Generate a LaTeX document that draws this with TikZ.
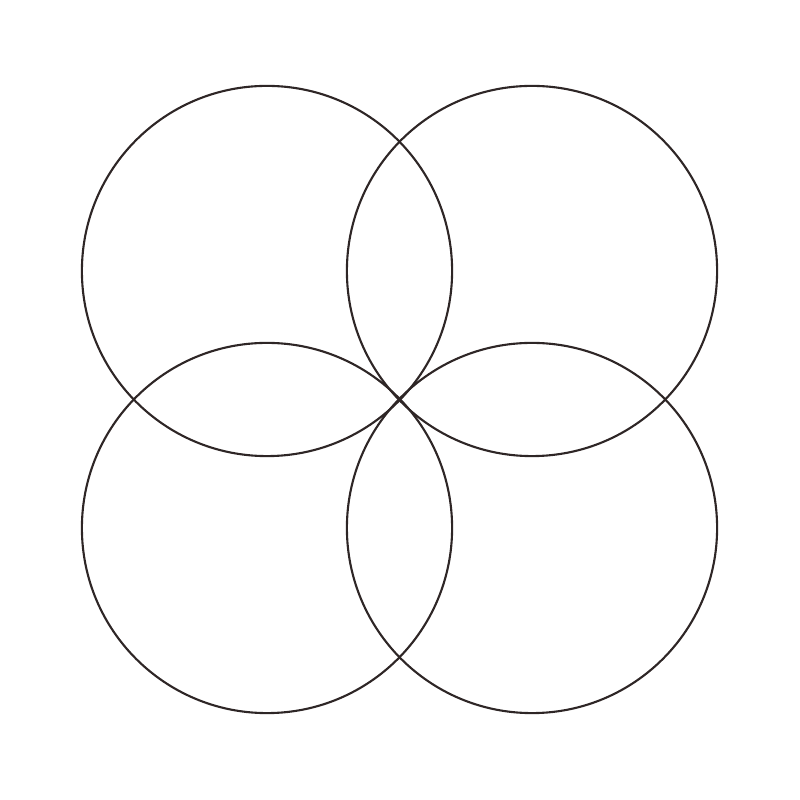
\documentclass[tikz,border=0pt]{standalone}
\usepackage{tikz}
\definecolor{ringline}{HTML}{2E2626}
\begin{document}
\begin{tikzpicture}[x=0.01cm,y=0.01cm]
\tikzstyle{ring}=[circle,draw=ringline,line width=0.6pt,minimum size=3.70cm,inner sep=0pt,outer sep=0pt]

\useasboundingbox (0, 0) rectangle (800, 800);

\node (tl) at (267, 529) [ring]{};
\node (tr) at (532, 529) [ring]{};
\node (bl) at (267, 272) [ring]{};
\node (br) at (532, 272) [ring]{};

\end{tikzpicture}
\end{document}
